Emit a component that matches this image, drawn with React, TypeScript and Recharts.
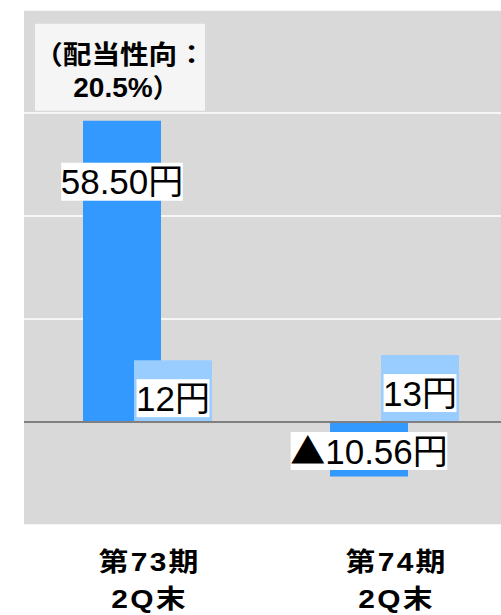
import React from 'react';
import { BarChart, Bar, XAxis, YAxis, CartesianGrid, ReferenceLine, LabelList } from 'recharts';

const categories = ['第73期 2Q末', '第74期 2Q末'];
const eps = [58.5, -10.56];
const dividend = [12, 13];
const payoutRatio = ['20.5%', null];
const yTicks = [-20, 0, 20, 40, 60, 80];

const data = categories.map((category, i) => ({
  category,
  eps: eps[i],
  dividend: dividend[i],
  payout: payoutRatio[i],
}));

const FONT = "'Liberation Sans', 'Noto Sans CJK JP', sans-serif";
const CJK = "'Noto Sans CJK JP', sans-serif";
const LABEL_SIZE = 35;

const textWidth = (s: string, size: number) =>
  [...s].reduce((w, c) => w + (/[0-9]/.test(c) ? 0.556 : c === '.' ? 0.278 : 1) * size, 0);

const ValueBox = ({ cx, cy, text }: { cx: number; cy: number; text: string }) => {
  const w = textWidth(text, LABEL_SIZE) - 1;
  const neg = text.startsWith('▲');
  return (
    <g>
      <rect x={cx - w / 2} y={cy - 19} width={w} height={38} fill="#fff" />
      <text x={cx} y={cy + 12.5} textAnchor="middle" fontFamily={FONT} fontSize={LABEL_SIZE} fill="#000">
        {neg && <tspan fontFamily={CJK}>▲</tspan>}
        {neg ? text.slice(1) : text}
      </text>
    </g>
  );
};

const barBox = (p: any) => {
  const x = Number(p.x), y = Number(p.y), h = Number(p.height), w = Number(p.width);
  return { cx: x + w / 2, top: Math.min(y, y + h), bottom: Math.max(y, y + h) };
};

const EpsLabel = (p: any) => {
  const v = Number(p.value);
  const { cx, top } = barBox(p);
  const text = (v < 0 ? '▲' : '') + Math.abs(v).toFixed(2) + '円';
  return <ValueBox cx={cx} cy={v < 0 ? top + 29 : top + 61} text={text} />;
};

const DividendLabel = (p: any) => {
  const { cx, top } = barBox(p);
  return <ValueBox cx={cx} cy={top + 38} text={`${p.value}円`} />;
};

const PayoutLabel = (p: any) => {
  if (!p.value) return null;
  const { cx, top } = barBox(p);
  const bx = cx - 2 - 85;
  const by = top - 97;
  return (
    <g>
      <rect x={bx} y={by} width={170} height={87} fill="#f5f5f5" />
      <g transform={`translate(${bx + 85},0) scale(1.1,1)`}>
        <text x={0} y={by + 40} textAnchor="middle" fontFamily={FONT} fontSize={26} fontWeight="bold" fill="#000">
          （配当性向：
        </text>
      </g>
      <text x={bx + 91} y={by + 73} textAnchor="middle" fontFamily={FONT} fontSize={28} fontWeight="bold" fill="#000">
        {p.value}
        <tspan fontFamily={CJK} fontSize={26}>）</tspan>
      </text>
    </g>
  );
};

const CategoryTick = (props: any) => {
  const { x, y, payload } = props;
  const lines = String(payload.value).split(' ');
  return (
    <g transform={`translate(${x + 1},0) scale(1.15,1)`}>
      <text textAnchor="middle" fontFamily={FONT} fontSize={26} fontWeight="bold" letterSpacing={2} fill="#000">
        {lines.map((l, i) => (
          <tspan key={i} x={1} y={y + 46 + i * 37}>
            {l}
          </tspan>
        ))}
      </text>
    </g>
  );
};

export default function App() {
  return (
    <div style={{ position: 'absolute', left: 0, top: 0, width: 501, height: 615, overflow: 'hidden', background: '#fff' }}>
      <BarChart
        width={518}
        height={615}
        data={data}
        margin={{ top: 10, right: 0, left: 24, bottom: 0 }}
        barSize={78}
        barGap={-27}
      >
        <CartesianGrid vertical={false} fill="#d9d9d9" fillOpacity={1} stroke="#ffffff" strokeWidth={1.5} />
        <XAxis
          dataKey="category"
          height={90}
          axisLine={false}
          tickLine={false}
          tickSize={0}
          tickMargin={0}
          interval={0}
          tick={<CategoryTick />}
        />
        <YAxis hide domain={[-20, 80]} ticks={yTicks} />
        <Bar dataKey="eps" fill="#3399ff" isAnimationActive={false}>
          <LabelList dataKey="eps" content={EpsLabel} />
          <LabelList dataKey="payout" content={PayoutLabel} />
        </Bar>
        <Bar dataKey="dividend" fill="#99ccff" isAnimationActive={false}>
          <LabelList dataKey="dividend" content={DividendLabel} />
        </Bar>
        <ReferenceLine y={0} stroke="#808080" strokeWidth={2} />
      </BarChart>
    </div>
  );
}
